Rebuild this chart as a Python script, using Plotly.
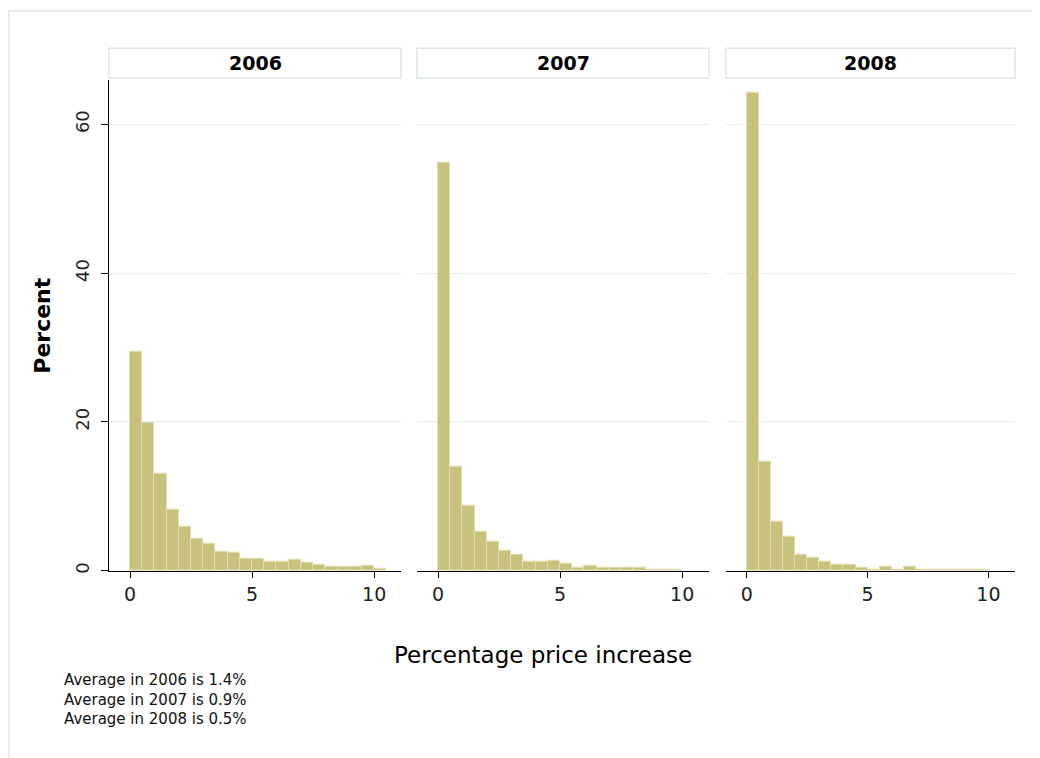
import plotly.graph_objects as go

# ---- data ----
years = ["2006", "2007", "2008"]
bin_width = 0.5
pct_2006 = [29.4, 19.9, 13.0, 8.15, 5.9, 4.25, 3.7, 2.6, 2.4, 1.6, 1.6,
            1.25, 1.25, 1.44, 1.07, 0.85, 0.5, 0.5, 0.5, 0.67, 0.3]
pct_2007 = [54.9, 14.0, 8.7, 5.3, 3.85, 2.7, 2.1, 1.2, 1.2, 1.4, 1.0,
            0.45, 0.65, 0.4, 0.4, 0.4, 0.4, 0.2, 0.2, 0.2]
pct_2008 = [64.3, 14.7, 6.6, 4.6, 2.2, 1.8, 1.25, 0.85, 0.85, 0.45, 0.2,
            0.5, 0.2, 0.5, 0.15, 0.15, 0.15, 0.15, 0.15, 0.15]
series = [pct_2006, pct_2007, pct_2008]
x_ticks = [0, 5, 10]
y_ticks = [0, 20, 40, 60]
averages = ["1.4%", "0.9%", "0.5%"]

W, H = 1040, 758
OFF = 8  # page body margin
FONT = "DejaVu Sans"
BAR_FILL = "#c9c27f"
BAR_LINE = "#e2deb2"
GRID = "#e6eef2"
FRAME = "#dde7ee"

def px(xp):
    return (xp - OFF) / W

def py(yp):
    return 1 - (yp - OFF) / H

panel_x = [(109, 401), (417, 709), (726, 1015)]
plot_top, plot_bot = 80, 573

fig = go.Figure()
layout = {}
for i, (yr, vals) in enumerate(zip(years, series)):
    ax = "" if i == 0 else str(i + 1)
    centers = [k * bin_width + bin_width / 2 for k in range(len(vals))]
    fig.add_trace(go.Bar(
        x=centers, y=vals, width=bin_width,
        marker=dict(color=BAR_FILL, line=dict(color=BAR_LINE, width=1)),
        xaxis="x" + ax, yaxis="y" + ax, showlegend=False, hoverinfo="x+y",
    ))
    x0, x1 = panel_x[i]
    layout["xaxis" + ax] = dict(
        domain=[px(x0), px(x1)], range=[-0.86, 11.1], anchor="y" + ax,
        tickvals=x_ticks, ticks="outside", ticklen=6, tickcolor="black",
        showline=True, linecolor="black", linewidth=1, showgrid=False,
        zeroline=False, tickfont=dict(family=FONT, size=19, color="#222"),
        fixedrange=True,
    )
    layout["yaxis" + ax] = dict(
        domain=[py(plot_bot), py(plot_top)], range=[0, 66.0], anchor="x" + ax,
        tickvals=y_ticks, showgrid=True, gridcolor=GRID, gridwidth=1,
        zeroline=False, fixedrange=True,
        showline=(i == 0), linecolor="black", linewidth=1,
        ticks="outside" if i == 0 else "", ticklen=7, tickcolor="black",
        showticklabels=(i == 0), tickangle=-90, ticklabelstandoff=5,
        tickfont=dict(family=FONT, size=18, color="#222"),
    )

shapes = []
annotations = []
# outer light frame
shapes.append(dict(type="rect", xref="paper", yref="paper",
                   x0=px(8.75), x1=px(1070), y0=py(800), y1=py(11),
                   line=dict(color=FRAME, width=1.5), fillcolor="rgba(0,0,0,0)",
                   layer="below"))
# strips
for i, yr in enumerate(years):
    x0, x1 = panel_x[i]
    shapes.append(dict(type="rect", xref="paper", yref="paper",
                       x0=px(x0), x1=px(x1), y0=py(78.5), y1=py(48.5),
                       line=dict(color=FRAME, width=1.5), fillcolor="white"))
    annotations.append(dict(text="<b>" + yr + "</b>", xref="paper", yref="paper",
                            x=px((x0 + x1) / 2), y=py(63.5), showarrow=False,
                            xanchor="center", yanchor="middle",
                            font=dict(family=FONT, size=19, color="black")))

annotations.append(dict(text="<b>Percent</b>", xref="paper", yref="paper",
                        x=px(43), y=py(327), textangle=-90, showarrow=False,
                        xanchor="center", yanchor="middle",
                        font=dict(family=FONT, size=22, color="black")))
annotations.append(dict(text="Percentage price increase", xref="paper", yref="paper",
                        x=px(543), y=py(658), showarrow=False,
                        xanchor="center", yanchor="middle",
                        font=dict(family=FONT, size=23, color="black")))
avg_text = "<br>".join("Average in " + yr + " is " + av
                       for yr, av in zip(years, averages))
annotations.append(dict(text=avg_text, xref="paper", yref="paper",
                        x=px(62), y=py(702.5), showarrow=False, align="left",
                        xanchor="left", yanchor="middle",
                        font=dict(family=FONT, size=15, color="#111")))

fig.update_layout(
    width=W, height=H, autosize=False,
    margin=dict(l=0, r=0, t=0, b=0),
    paper_bgcolor="white", plot_bgcolor="white",
    bargap=0, shapes=shapes, annotations=annotations,
    **layout,
)

fig.write_html("out.html")
